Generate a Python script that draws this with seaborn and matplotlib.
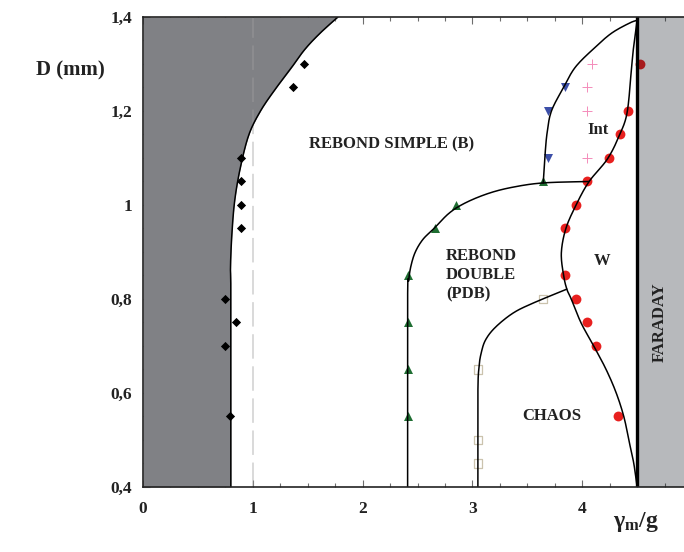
import numpy as np
import matplotlib
matplotlib.use('Agg')
import matplotlib.pyplot as plt
from matplotlib.ticker import MultipleLocator, FuncFormatter
import seaborn as sns

# Points mesures (gamma_m/g, D en mm)
bs_x = [1.47, 1.37, 0.89, 0.89, 0.89, 0.89, 0.745, 0.845, 0.745, 0.79]
bs_y = [1.30, 1.25, 1.10, 1.05, 1.00, 0.95, 0.80, 0.75, 0.70, 0.55]

pdb_x = [2.41, 2.41, 2.41, 2.41, 2.66, 2.85, 3.645]
pdb_y = [0.55, 0.65, 0.75, 0.85, 0.95, 1.00, 1.05]

int_x = [3.69, 3.69, 3.84]
int_y = [1.10, 1.20, 1.25]

plus_x = [4.09, 4.04, 4.04, 4.04]
plus_y = [1.30, 1.25, 1.20, 1.10]

w_x = [4.53, 4.42, 4.34, 4.24, 4.04, 3.94, 3.84, 3.84, 3.94, 4.04, 4.13, 4.33]
w_y = [1.30, 1.20, 1.15, 1.10, 1.05, 1.00, 0.95, 0.85, 0.80, 0.75, 0.70, 0.55]

chaos_x = [3.05, 3.05, 3.05, 3.645]
chaos_y = [0.45, 0.50, 0.65, 0.80]

# Frontieres tracees a la main (points de controle)
front_b_x = [0.80, 0.80, 0.797, 0.81, 0.836, 0.888, 0.965, 1.07, 1.20, 1.336, 1.47, 1.61, 1.775]
front_b_y = [0.40, 0.80, 0.868, 0.94, 1.011, 1.081, 1.150, 1.200, 1.245, 1.287, 1.33, 1.365, 1.40]

front_pdb_x = [2.41, 2.41, 2.42, 2.44, 2.48, 2.55, 2.65, 2.79, 2.94, 3.15, 3.37, 3.645, 4.06]
front_pdb_y = [0.40, 0.80, 0.84, 0.87, 0.90, 0.927, 0.95, 0.983, 1.005, 1.025, 1.038, 1.047, 1.05]

front_int_x = [3.645, 3.66, 3.68, 3.72, 3.83, 3.94, 4.12, 4.27, 4.43, 4.50]
front_int_y = [1.047, 1.102, 1.153, 1.20, 1.25, 1.294, 1.336, 1.366, 1.387, 1.393]

front_w_x = [4.50, 4.47, 4.45, 4.41, 4.34, 4.23, 4.06, 3.94, 3.85, 3.81, 3.83, 3.86, 3.90,
             3.99, 4.11, 4.22, 4.31, 4.38, 4.43, 4.47, 4.50]
front_w_y = [1.393, 1.34, 1.294, 1.198, 1.149, 1.098, 1.049, 0.998, 0.949, 0.898, 0.851, 0.821, 0.80,
             0.749, 0.698, 0.649, 0.60, 0.549, 0.494, 0.45, 0.40]

front_chaos_x = [3.05, 3.05, 3.06, 3.08, 3.12, 3.21, 3.37, 3.55, 3.86]
front_chaos_y = [0.40, 0.60, 0.655, 0.685, 0.713, 0.74, 0.77, 0.791, 0.821]

faraday_x = 4.5


def lisse(xs, ys, n=16):
    # spline de Catmull-Rom pour tracer la frontiere sans angles
    p = np.column_stack([xs, ys]).astype(float)
    p = np.vstack([p[0], p, p[-1]])
    t = np.linspace(0, 1, n, endpoint=False)[:, None]
    out = []
    for i in range(1, len(p) - 2):
        p0, p1, p2, p3 = p[i - 1], p[i], p[i + 1], p[i + 2]
        out.append(0.5 * (2 * p1 + (-p0 + p2) * t + (2 * p0 - 5 * p1 + 4 * p2 - p3) * t ** 2
                          + (-p0 + 3 * p1 - 3 * p2 + p3) * t ** 3))
    out.append(p[-2][None, :])
    out = np.vstack(out)
    return out[:, 0], out[:, 1]


sns.set_style('ticks')
plt.rcParams['font.family'] = ['Liberation Serif', 'DejaVu Serif']
plt.rcParams['font.weight'] = 'bold'
plt.rcParams['mathtext.fontset'] = 'custom'
plt.rcParams['mathtext.rm'] = 'Liberation Serif:bold'
plt.rcParams['mathtext.it'] = 'Liberation Serif:bold'

fig = plt.figure(figsize=(6.84, 5.52), dpi=100)
ax = fig.add_axes([143 / 684, 65 / 552, 549 / 684, 470 / 552])

# Zone grise a gauche (pas de rebond)
bx, by = lisse(front_b_x, front_b_y)
ax.fill_betweenx(by, 0, bx, color='#808185', lw=0, zorder=1)

# Ligne tiretee a gamma = 1
ax.axvline(1, color='#a0a0a0', alpha=0.5, lw=1.1, ls=(0, (16, 5)), zorder=1.5)

# Mesures
sns.scatterplot(x=bs_x, y=bs_y, marker='D', s=22, color='black', linewidth=0, ax=ax, zorder=4)
sns.scatterplot(x=pdb_x, y=pdb_y, marker='^', s=42, color='#1f6e32', linewidth=0, ax=ax, zorder=4)
sns.scatterplot(x=int_x, y=int_y, marker='v', s=42, color='#3c4fa8', linewidth=0, ax=ax, zorder=4)
sns.scatterplot(x=plus_x, y=plus_y, marker='+', s=45, color='#f48cba', linewidth=0.7, ax=ax, zorder=4)
sns.scatterplot(x=w_x, y=w_y, marker='o', s=50, color='#e8201f', linewidth=0, ax=ax, zorder=2)
sns.scatterplot(x=chaos_x, y=chaos_y, marker='s', s=36, facecolor='none', edgecolor='#cbc3ae',
                linewidth=0.9, ax=ax, zorder=4)

# Zone Faraday (par-dessus le point rouge)
ax.axvspan(faraday_x, 5, color='#08101a', alpha=0.29, lw=0, zorder=3)

# Frontieres
for fx, fy in [(front_b_x, front_b_y), (front_pdb_x, front_pdb_y), (front_int_x, front_int_y),
               (front_w_x, front_w_y), (front_chaos_x, front_chaos_y)]:
    sx, sy = lisse(fx, fy)
    sns.lineplot(x=sx, y=sy, sort=False, estimator=None, color='black', lw=1.1, ax=ax, zorder=5)
ax.plot([faraday_x, faraday_x], [0.4, 1.4], color='black', lw=2.4, zorder=6)

ax.set_xlim(0, 5)
ax.set_ylim(0.4, 1.4)
ax.xaxis.set_major_locator(MultipleLocator(1))
ax.xaxis.set_minor_locator(MultipleLocator(0.25))
ax.yaxis.set_major_locator(MultipleLocator(0.2))
ax.yaxis.set_minor_locator(MultipleLocator(0.05))
ax.yaxis.set_major_formatter(FuncFormatter(lambda v, p: ('%g' % round(v, 2)).replace('.', ',')))
ax.tick_params(which='both', direction='in', top=True, right=True, labelsize=12.5, width=0.8,
               colors='#6e6e6e', labelcolor='#222222')
ax.tick_params(which='major', length=5)
ax.tick_params(axis='x', which='major', pad=10)
ax.tick_params(axis='y', which='major', pad=8)
ax.tick_params(which='minor', length=3)
for sp in ax.spines.values():
    sp.set_linewidth(1.2)
    sp.set_color('#222222')
    sp.set_zorder(7)

txt = dict(fontsize=12, fontweight='bold', color='#222222', zorder=8)
ax.text(2.26, 1.13, 'REBOND SIMPLE (B)', ha='center', va='center', **txt)
ax.text(4.14, 1.16, 'Int', ha='center', va='center', **txt)
ax.text(2.76, 0.85, 'REBOND\nDOUBLE\n(PDB)', ha='left', va='center', linespacing=1.25, **txt)
ax.text(4.18, 0.88, 'W', ha='center', va='center', **txt)
ax.text(3.72, 0.55, 'CHAOS', ha='center', va='center', **txt)
ax.text(4.71, 0.75, 'FARADAY', ha='center', va='center', rotation=90, **txt)

ax.text(-0.133, 0.887, 'D (mm)', transform=ax.transAxes, ha='center', va='center',
        fontsize=15, fontweight='bold', color='#222222')
ax.text(0.897, -0.075, r'$\gamma_{m}$/g', transform=ax.transAxes, ha='center', va='center',
        fontsize=17, fontweight='bold', color='#222222')

plt.savefig('out.png', dpi=100)
